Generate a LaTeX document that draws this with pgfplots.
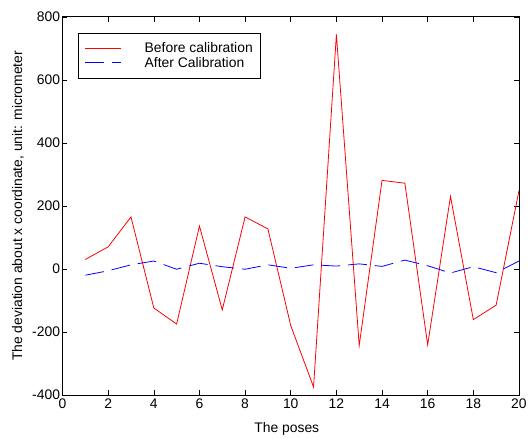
\documentclass[border=0pt]{standalone}
\usepackage{pgfplots}
\pgfplotsset{compat=1.18}
\usepackage{fontspec}
\setmainfont{Liberation Sans}
\begin{document}
\begin{tikzpicture}
\begin{axis}[
    scale only axis,
    width=460pt, height=381pt,
    xmin=0, xmax=20, ymin=-400, ymax=800,
    xtick={0,2,...,20}, ytick={-400,-200,...,800},
    major tick length=5pt,
    tick style={black, line width=0.6pt},
    axis line style={line width=0.8pt},
    font=\fontsize{14}{16}\selectfont,
    /pgf/number format/assume math mode=true,
    scaled ticks=false,
    yticklabel style={/pgf/number format/1000 sep={}, xshift=1pt},
    xlabel={The poses},
    ylabel={The deviation about x coordinate, unit: micrometer},
    xlabel style={at={([xshift=-4pt,yshift=-34pt]axis description cs:0.5,0)}, anchor=center},
    ylabel style={at={([xshift=-45pt]axis description cs:0,0.5)}, anchor=center},
    legend style={at={([xshift=16pt,yshift=-16pt]axis description cs:0,1)}, anchor=north west,
        draw=black, line width=0.8pt, inner xsep=6pt, inner ysep=8pt,
        nodes={inner ysep=1.5pt, inner xsep=2pt}, row sep=0pt,
        font=\fontsize{14}{16}\selectfont},
    legend cell align=left,
    legend image code/.code={\draw[#1] (0pt,0pt) -- (36pt,0pt); \path[draw=none] (0pt,0pt) -- (58pt,0pt);},
]
\addplot[red, line width=0.8pt] coordinates {
    (1,30) (2,70) (3,165) (4,-124) (5,-175) (6,136) (7,-130) (8,165) (9,127) (10,-180)
    (11,-375) (12,744) (13,-243) (14,281) (15,272) (16,-241) (17,230) (18,-161) (19,-115) (20,248)
};
\addlegendentry{Before calibration}
\addplot[blue, line width=0.8pt, dash pattern=on 19pt off 8pt] coordinates {
    (1,-20) (2,-6) (3,13) (4,25) (5,-1) (6,18) (7,7) (8,-1) (9,13) (10,2)
    (11,13) (12,9) (13,16) (14,8) (15,28) (16,10) (17,-13) (18,7) (19,-12) (20,25)
};
\addlegendentry{After Calibration}
\end{axis}
\path ([xshift=-63pt,yshift=-41pt]current axis.south west) rectangle ([xshift=7pt,yshift=17pt]current axis.north east);
\end{tikzpicture}
\end{document}
